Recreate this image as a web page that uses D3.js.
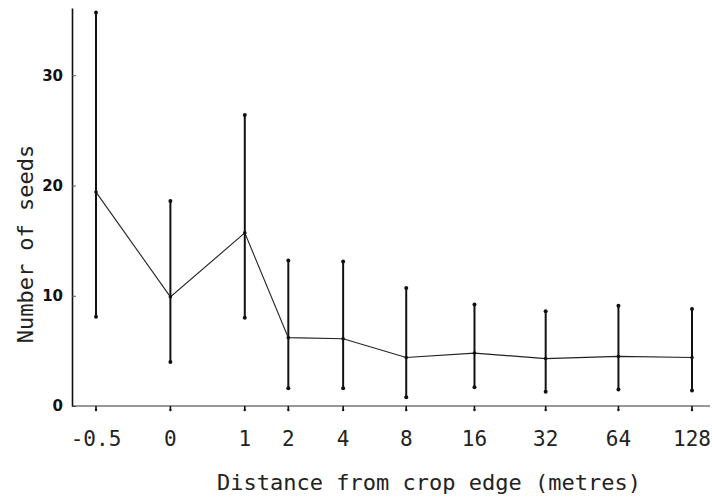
<!DOCTYPE html>
<html>
<head>
<meta charset="utf-8">
<script src="https://cdn.jsdelivr.net/npm/d3@7/dist/d3.min.js"></script>
<style>
  html, body { margin: 0; padding: 0; background: #fff; }
  svg { display: block; }
</style>
</head>
<body>
<svg id="chart" width="712" height="503"></svg>
<script>
// Distance from crop edge (metres) and seed counts at each station
const distances = [-0.5, 0, 1, 2, 4, 8, 16, 32, 64, 128];
const distanceLabels = ["-0.5", "0", "1", "2", "4", "8", "16", "32", "64", "128"];
const meanSeeds = [19.4, 9.9, 15.7, 6.2, 6.1, 4.4, 4.8, 4.3, 4.5, 4.4];
const lowerSeeds = [8.1, 4.0, 8.0, 1.6, 1.6, 0.8, 1.7, 1.3, 1.5, 1.4];
const upperSeeds = [35.7, 18.6, 26.4, 13.2, 13.1, 10.7, 9.2, 8.6, 9.1, 8.8];
const yTicks = [0, 10, 20, 30];

const svg = d3.select("#chart");
const axisLeftX = 72, axisRightX = 710;

// distance axis is logarithmic in (distance + 1)
const xLog = d3.scaleLog().domain([0.5, 129]).range([96, 692]);
const x = d => xLog(d + 1);
const y = d3.scaleLinear().domain([0, 36.1]).range([406, 8]);

const monoFont = "'DejaVu Sans Mono', 'Liberation Mono', monospace";

// y axis
const yAxis = d3.axisLeft(y)
  .tickValues(yTicks)
  .tickFormat(d3.format("d"))
  .tickSizeInner(-4)
  .tickSizeOuter(0)
  .tickPadding(9);
const gy = svg.append("g").attr("transform", `translate(${axisLeftX},0)`).call(yAxis);
gy.select(".domain").attr("stroke", "#111").attr("stroke-width", 1.6);
gy.selectAll(".tick line").attr("stroke", "#555").attr("stroke-width", 1);
gy.selectAll(".tick text")
  .attr("font-family", "'DejaVu Sans', sans-serif")
  .attr("font-weight", "bold")
  .attr("font-size", 15)
  .attr("fill", "#111");

// x axis baseline
svg.append("line")
  .attr("x1", axisLeftX).attr("x2", axisRightX)
  .attr("y1", y(0)).attr("y2", y(0))
  .attr("stroke", "#333").attr("stroke-width", 1.2);

// x ticks and labels
const xt = svg.append("g").selectAll("g").data(distances).join("g")
  .attr("transform", d => `translate(${x(d)},${y(0)})`);
xt.append("line").attr("y1", 0).attr("y2", 4).attr("stroke", "#111").attr("stroke-width", 1.6);
xt.append("circle").attr("cy", 4).attr("r", 1.2).attr("fill", "#111");
xt.append("text")
  .attr("y", 40)
  .attr("text-anchor", "middle")
  .attr("font-family", monoFont)
  .attr("font-size", 21)
  .attr("fill", "#222")
  .text((d, i) => distanceLabels[i]);

// axis titles
svg.append("text")
  .attr("x", (x(-0.5) + x(128)) / 2 + 35)
  .attr("y", 490)
  .attr("text-anchor", "middle")
  .attr("font-family", monoFont)
  .attr("font-size", 22)
  .attr("fill", "#222")
  .text("Distance from crop edge (metres)");

svg.append("text")
  .attr("transform", "translate(33,244) rotate(-90)")
  .attr("text-anchor", "middle")
  .attr("font-family", monoFont)
  .attr("font-size", 22)
  .attr("fill", "#222")
  .text("Number of seeds");

// error bars
const bars = svg.append("g").selectAll("g").data(distances).join("g");
bars.append("line")
  .attr("x1", d => x(d)).attr("x2", d => x(d))
  .attr("y1", (d, i) => y(lowerSeeds[i]))
  .attr("y2", (d, i) => y(upperSeeds[i]))
  .attr("stroke", "#111").attr("stroke-width", 2);
bars.append("circle")
  .attr("cx", d => x(d)).attr("cy", (d, i) => y(lowerSeeds[i]))
  .attr("r", 2).attr("fill", "#111");
bars.append("circle")
  .attr("cx", d => x(d)).attr("cy", (d, i) => y(upperSeeds[i]))
  .attr("r", 2).attr("fill", "#111");

// mean line
const line = d3.line().x(d => x(d[0])).y(d => y(d[1]));
svg.append("path")
  .datum(distances.map((d, i) => [d, meanSeeds[i]]))
  .attr("d", line)
  .attr("fill", "none")
  .attr("stroke", "#222")
  .attr("stroke-width", 1.1);

svg.append("g").selectAll("circle").data(distances).join("circle")
  .attr("cx", d => x(d)).attr("cy", (d, i) => y(meanSeeds[i]))
  .attr("r", 1.8).attr("fill", "#111");
</script>
</body>
</html>
